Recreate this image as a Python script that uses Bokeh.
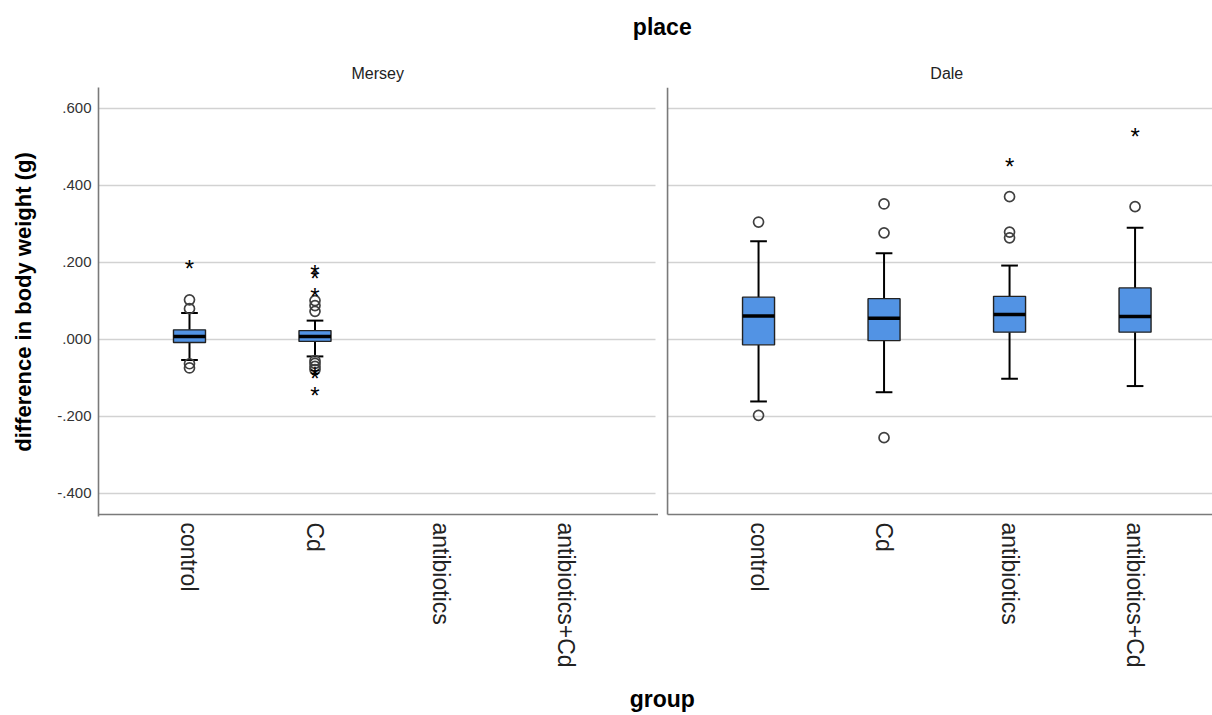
import math
from bokeh.plotting import figure
from bokeh.models import Range1d, LinearAxis, FixedTicker, ColumnDataSource
from bokeh.core.properties import value
from bokeh.embed import file_html
from bokeh.resources import INLINE

# ---------------- data ----------------
groups = ["control", "Cd", "antibiotics", "antibiotics+Cd"]
places = ["Mersey", "Dale"]
x_title = "group"
y_title = "difference in body weight (g)"
panel_title = "place"

# box summaries: lower whisker, Q1, median, Q3, upper whisker
mersey_groups = ["control", "Cd"]
mersey_lower = [-0.053, -0.044]
mersey_q1 = [-0.008, -0.005]
mersey_median = [0.008, 0.008]
mersey_q3 = [0.025, 0.023]
mersey_upper = [0.069, 0.049]

dale_groups = ["control", "Cd", "antibiotics", "antibiotics+Cd"]
dale_lower = [-0.161, -0.137, -0.102, -0.121]
dale_q1 = [-0.014, -0.003, 0.019, 0.019]
dale_median = [0.061, 0.055, 0.065, 0.060]
dale_q3 = [0.110, 0.106, 0.112, 0.134]
dale_upper = [0.255, 0.224, 0.192, 0.290]

# outliers (circles) and extreme values (stars)
mersey_out_group = ["control"] * 4 + ["Cd"] * 7
mersey_out_value = [0.103, 0.080, -0.063, -0.074,
                    0.101, 0.088, 0.073, -0.055, -0.062, -0.070, -0.078]
mersey_ext_group = ["control", "Cd", "Cd", "Cd", "Cd", "Cd", "Cd"]
mersey_ext_value = [0.192, 0.179, 0.166, 0.120, -0.086, -0.094, -0.139]

dale_out_group = ["control", "control", "Cd", "Cd", "Cd",
                  "antibiotics", "antibiotics", "antibiotics", "antibiotics+Cd"]
dale_out_value = [0.305, -0.197, 0.352, 0.277, -0.255, 0.371, 0.279, 0.264, 0.345]
dale_ext_group = ["antibiotics", "antibiotics+Cd"]
dale_ext_value = [0.458, 0.534]

y_ticks = [-0.4, -0.2, 0.0, 0.2, 0.4, 0.6]
y_tick_labels = ["-.400", "-.200", ".000", ".200", ".400", ".600"]

# ---------------- layout constants ----------------
FONT = "Liberation Sans"
X0, X1 = -0.725, 8.151
Y0, Y1 = -0.4598, 0.6545
AXIS_Y = -0.4545
DALE_OFFSET = 4.534
LEFT_END = 3.713
RIGHT_START = 3.809
BOX_W = 0.255
CAP_W = 0.133
MID_X = 3.767
BOX_FILL = "#5293e4"
AXIS_COLOR = "#7a7a7a"
GRID_COLOR = "#d2d2d2"

p = figure(width=1212, height=715, x_range=Range1d(X0, X1), y_range=Range1d(Y0, Y1),
           x_axis_type=None, y_axis_type=None, output_backend="svg",
           toolbar_location=None, min_border_left=98, min_border_right=0,
           min_border_top=87, min_border_bottom=199)
p.outline_line_color = None
p.background_fill_color = "white"
p.border_fill_color = "white"


def xpos(glist, offset):
    return [groups.index(g) + offset for g in glist]


# grid lines per panel
gx0, gx1, gy = [], [], []
for t in y_ticks:
    gx0 += [X0, RIGHT_START]
    gx1 += [LEFT_END, X1]
    gy += [t, t]
p.segment(x0=gx0, y0=gy, x1=gx1, y1=gy, line_color=GRID_COLOR, line_width=1.6)

# axis lines (bottom, split per panel; right panel's own y line)
p.segment(x0=[X0, RIGHT_START], y0=[AXIS_Y, AXIS_Y], x1=[LEFT_END + 0.02, X1], y1=[AXIS_Y, AXIS_Y],
          line_color=AXIS_COLOR, line_width=1.6)
p.segment(x0=[RIGHT_START], y0=[AXIS_Y], x1=[RIGHT_START], y1=[Y1],
          line_color=AXIS_COLOR, line_width=1.6)

panels = [
    (0.0, mersey_groups, mersey_lower, mersey_q1, mersey_median, mersey_q3, mersey_upper,
     mersey_out_group, mersey_out_value, mersey_ext_group, mersey_ext_value),
    (DALE_OFFSET, dale_groups, dale_lower, dale_q1, dale_median, dale_q3, dale_upper,
     dale_out_group, dale_out_value, dale_ext_group, dale_ext_value),
]

for (off, gl, lo, q1, med, q3, up, og, ov, eg, ev) in panels:
    xs = xpos(gl, off)
    src = ColumnDataSource(dict(
        x=xs, lo=lo, q1=q1, med=med, q3=q3, up=up,
        bl=[x - BOX_W / 2 for x in xs], br=[x + BOX_W / 2 for x in xs],
        cl=[x - CAP_W / 2 for x in xs], cr=[x + CAP_W / 2 for x in xs]))
    # whiskers
    p.segment(x0="x", y0="q3", x1="x", y1="up", source=src, line_color="black", line_width=2)
    p.segment(x0="x", y0="q1", x1="x", y1="lo", source=src, line_color="black", line_width=2)
    p.segment(x0="cl", y0="up", x1="cr", y1="up", source=src, line_color="black", line_width=2)
    p.segment(x0="cl", y0="lo", x1="cr", y1="lo", source=src, line_color="black", line_width=2)
    # boxes
    p.vbar(x="x", width=BOX_W, bottom="q1", top="q3", source=src,
           fill_color=BOX_FILL, line_color="#222222", line_width=1.4)
    # medians
    p.segment(x0="bl", y0="med", x1="br", y1="med", source=src, line_color="black", line_width=3.5)
    # outliers
    p.scatter(x=xpos(og, off), y=ov, marker="circle", size=10, fill_color=None,
              line_color="#404040", line_width=1.7)
    # extreme values
    p.text(x=xpos(eg, off), y=ev, text=value("*"), text_font=value(FONT),
           text_font_size="24px", text_font_style="normal", text_color="black",
           text_align="center", text_baseline="middle", y_offset=3)

# ---------------- axes ----------------
yaxis = LinearAxis(ticker=FixedTicker(ticks=y_ticks),
                   major_label_overrides={t: l for t, l in zip(y_ticks, y_tick_labels)},
                   axis_label=y_title, axis_label_standoff=18,
                   axis_label_text_font=FONT, axis_label_text_font_size="22px",
                   axis_label_text_font_style="bold", axis_label_text_color="black",
                   major_label_text_font=FONT, major_label_text_font_size="15px",
                   major_label_text_color="#333333", major_label_standoff=7,
                   axis_line_color=AXIS_COLOR, axis_line_width=1.6,
                   major_tick_line_color=None, minor_tick_line_color=None,
                   major_tick_out=0, major_tick_in=0, minor_tick_out=0, minor_tick_in=0)
p.add_layout(yaxis, "left")

x_ticks = [i for i in range(len(groups))] + [i + DALE_OFFSET for i in range(len(groups))]
x_labels = groups + groups
xaxis = LinearAxis(ticker=FixedTicker(ticks=x_ticks),
                   major_label_overrides={t: l for t, l in zip(x_ticks, x_labels)},
                   major_label_orientation=-math.pi / 2,
                   major_label_text_font=FONT, major_label_text_font_size="23px",
                   major_label_text_color="#222222", major_label_standoff=6,
                   axis_line_color=None, major_tick_line_color=None, minor_tick_line_color=None,
                   major_tick_out=0, major_tick_in=0, minor_tick_out=0, minor_tick_in=0)
p.add_layout(xaxis, "below")

gaxis = LinearAxis(ticker=FixedTicker(ticks=[MID_X]), major_label_overrides={MID_X: x_title},
                   major_label_text_font=FONT, major_label_text_font_size="23px",
                   major_label_text_font_style="bold", major_label_text_color="black",
                   major_label_standoff=15,
                   axis_line_color=None, major_tick_line_color=None, minor_tick_line_color=None,
                   major_tick_out=0, major_tick_in=0, minor_tick_out=0, minor_tick_in=0)
p.add_layout(gaxis, "below")

strip_ticks = [1.5, 1.5 + DALE_OFFSET]
saxis = LinearAxis(ticker=FixedTicker(ticks=strip_ticks),
                   major_label_overrides={t: l for t, l in zip(strip_ticks, places)},
                   major_label_text_font=FONT, major_label_text_font_size="16px",
                   major_label_text_color="#222222", major_label_standoff=6,
                   axis_line_color=None, major_tick_line_color=None, minor_tick_line_color=None,
                   major_tick_out=0, major_tick_in=0, minor_tick_out=0, minor_tick_in=0)
p.add_layout(saxis, "above")

taxis = LinearAxis(ticker=FixedTicker(ticks=[MID_X]), major_label_overrides={MID_X: panel_title},
                   major_label_text_font=FONT, major_label_text_font_size="23px",
                   major_label_text_font_style="bold", major_label_text_color="black",
                   major_label_standoff=22,
                   axis_line_color=None, major_tick_line_color=None, minor_tick_line_color=None,
                   major_tick_out=0, major_tick_in=0, minor_tick_out=0, minor_tick_in=0)
p.add_layout(taxis, "above")

open("out.html", "w").write(file_html(p, INLINE))
